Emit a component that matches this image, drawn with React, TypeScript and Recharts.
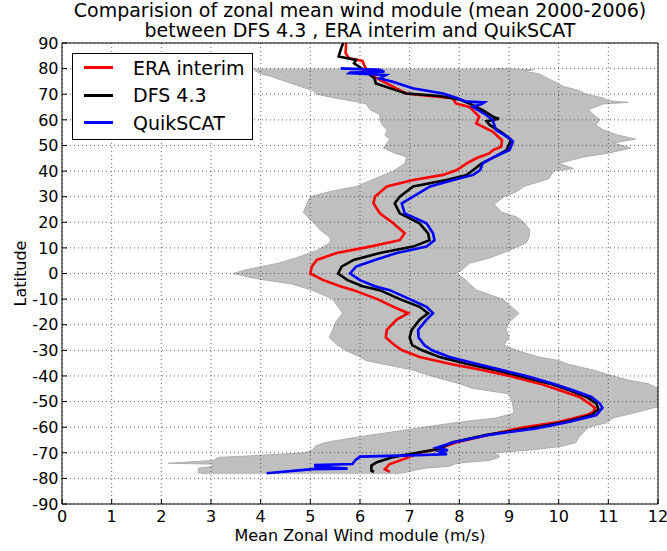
import React from 'react';
import {
  ComposedChart,
  Line,
  Area,
  XAxis,
  YAxis,
  CartesianGrid,
  Legend,
} from 'recharts';

// ---- tick labels ----
const X_TICKS = [0, 1, 2, 3, 4, 5, 6, 7, 8, 9, 10, 11, 12];
const Y_TICKS = [-90, -80, -70, -60, -50, -40, -30, -20, -10, 0, 10, 20, 30, 40, 50, 60, 70, 80, 90];
const SERIES_NAMES = ['ERA interim', 'DFS 4.3', 'QuikSCAT'];

// ---- ERA interim: [latitude, mean zonal wind module] ----
const ERA_INTERIM = [
  [90, 5.72], [86, 5.71], [84, 5.78], [83, 6.05], [81.5, 6.08], [80, 6.12], [76.8, 6.29], [75, 6.46],
  [71.6, 6.8], [70.3, 6.93], [69.3, 7.4], [68.4, 7.87], [66.4, 7.93], [65, 8.2], [63.8, 8.27], [61.2, 8.4],
  [58.6, 8.34], [55.4, 8.67], [52, 8.86], [49.5, 8.84], [48.2, 8.68], [46.9, 8.6], [45, 8.34], [43, 8.15],
  [40.4, 7.95], [38.5, 7.67], [36.5, 7.07], [34, 6.54], [30, 6.3], [27.4, 6.27], [23.5, 6.4], [19.6, 6.67],
  [15.7, 6.9], [13, 6.8], [10.5, 6.2], [8, 5.53], [5.3, 5.13], [2.7, 5.03], [0, 5.0], [-2.5, 5.25],
  [-5, 5.6], [-6.5, 5.87], [-10, 6.35], [-13, 6.67], [-15.5, 6.97], [-18, 6.74], [-22, 6.54], [-25, 6.52],
  [-28, 6.7], [-30, 6.85], [-32.6, 7.2], [-35.2, 7.8], [-37.8, 8.48], [-40, 9.01], [-43, 9.62], [-45.6, 10.02],
  [-48.2, 10.42], [-50.8, 10.62], [-52.5, 10.73], [-54, 10.7], [-55.3, 10.56], [-57.9, 10.02], [-60, 9.3],
  [-63, 8.6], [-66, 7.93], [-68.75, 7.53], [-70, 7.19], [-72, 6.95], [-74.4, 6.6], [-76.4, 6.5], [-77.5, 6.6],
];

// ---- DFS 4.3 ----
const DFS_43 = [
  [90, 5.66], [87.3, 5.61], [84.7, 5.57], [83.4, 5.92], [82.1, 5.88], [80.8, 5.98], [78.8, 6.12], [76.2, 6.29],
  [74.2, 6.32], [71.6, 6.72], [70.3, 6.93], [69.3, 7.6], [68, 8.0], [66.4, 8.2], [63.8, 8.47], [61, 8.7],
  [60.4, 8.8], [59.5, 8.55], [58, 8.61], [54.7, 8.88], [52.1, 9.04], [48.2, 8.95], [45.6, 8.72], [43, 8.45],
  [40.4, 8.28], [38.5, 8.15], [36.5, 7.74], [34, 7.07], [30, 6.8], [27.4, 6.7], [23.5, 6.8], [19.6, 7.2],
  [15.7, 7.37], [13, 7.4], [10.5, 7.07], [8, 6.4], [5.3, 5.87], [2.7, 5.63], [0, 5.56], [-2.6, 5.75],
  [-5, 6.05], [-6.5, 6.4], [-10, 6.8], [-13, 7.2], [-15.5, 7.37], [-18, 7.2], [-22, 7.04], [-25, 7.0],
  [-28, 7.05], [-30, 7.25], [-32.6, 7.6], [-35.2, 8.14], [-37.8, 8.74], [-40, 9.21], [-43, 9.82], [-45.6, 10.22],
  [-48.2, 10.56], [-50.8, 10.76], [-53, 10.8], [-55.3, 10.66], [-57.9, 10.15], [-60.5, 9.4], [-63, 8.55],
  [-66, 7.85], [-68.4, 7.6], [-70, 7.15], [-71.7, 6.67], [-73.7, 6.34], [-75, 6.23], [-77, 6.23], [-77.5, 6.28],
];

// ---- QuikSCAT ----
const QUIKSCAT = [
  [80.1, 5.61], [79.5, 6.4], [78.8, 6.49], [78.5, 5.8], [78.2, 5.78], [77.5, 6.52], [76.2, 6.39], [74.9, 6.66],
  [72.3, 7.06], [70.3, 7.67], [68.5, 7.95], [67.1, 8.14], [66.8, 8.5], [66.2, 8.45], [65.1, 8.27], [61.9, 8.54],
  [59.9, 8.67], [56, 8.74], [53, 9.0], [51.5, 9.08], [48.2, 9.01], [45.5, 8.7], [43, 8.47], [40.4, 8.42],
  [38.5, 8.28], [36.5, 7.88], [34, 7.41], [30, 7.07], [27.4, 6.84], [23.5, 6.9], [19.6, 7.34], [15.7, 7.47],
  [13, 7.5], [10.5, 7.34], [8, 6.74], [5.3, 6.3], [2.7, 5.92], [0, 5.8], [-2.6, 6.0], [-5, 6.3],
  [-6.5, 6.6], [-10, 7.0], [-13, 7.34], [-15.5, 7.47], [-18, 7.34], [-22, 7.17], [-25, 7.18], [-28, 7.3],
  [-30, 7.45], [-32.6, 7.8], [-35.2, 8.34], [-37.8, 8.88], [-40, 9.35], [-43, 9.89], [-45.6, 10.29], [-48.2, 10.66],
  [-50.8, 10.83], [-52.5, 10.88], [-55.3, 10.76], [-57.9, 10.22], [-60.5, 9.55], [-63, 8.6], [-66, 7.87],
  [-68, 7.55], [-69, 7.77], [-69.5, 7.6], [-70.6, 7.75], [-71, 7.0], [-71.5, 6.0], [-73, 5.9], [-74.4, 5.85],
  [-74.8, 5.1], [-75.3, 5.1], [-76.2, 5.75], [-76.4, 5.05], [-78, 4.12],
];

// ---- grey envelope: [latitude, min, max] ----
const ENVELOPE = [
  [80, 3.85, 8.74], [79.6, 3.87, 9.5], [79, 3.9, 9.3], [78, 4.0, 9.6], [77, 4.2, 9.7], [75, 4.5, 9.9],
  [73, 4.8, 10.1], [71.5, 5.05, 10.4], [70, 5.13, 10.56], [68.5, 5.5, 10.9], [67.5, 5.8, 11.0], [66.8, 6.0, 11.4],
  [66.2, 6.13, 10.9], [64, 6.2, 10.6], [62, 6.4, 10.7], [60, 6.4, 10.83], [58, 6.45, 10.75], [56, 6.55, 10.9],
  [54, 6.5, 11.2], [52.5, 6.6, 11.55], [51, 6.55, 11.1], [49, 6.47, 11.45], [47, 6.7, 11.0], [45.5, 6.94, 10.5],
  [43, 6.9, 10.0], [41, 6.75, 10.3], [40, 6.67, 9.9], [37, 6.3, 9.8], [34, 5.93, 9.3], [32, 5.4, 9.16],
  [30, 5.0, 8.9], [27, 4.93, 8.7], [24, 4.86, 8.85], [22, 4.95, 9.16], [20, 5.06, 9.3], [17, 5.2, 9.42],
  [14, 5.4, 9.4], [12, 5.4, 9.35], [9, 5.13, 9.0], [6, 4.7, 8.6], [4, 4.35, 8.2], [1.3, 3.67, 8.05],
  [0, 3.45, 7.93], [-2, 3.9, 8.1], [-4, 4.6, 8.2], [-6.5, 5.04, 8.35], [-10, 5.45, 8.87], [-15.5, 5.65, 9.2],
  [-19, 5.51, 9.0], [-22, 5.45, 8.94], [-25, 5.38, 9.0], [-28, 5.55, 8.9], [-30, 5.71, 9.15], [-32.6, 6.0, 9.6],
  [-34, 6.12, 10.0], [-35.5, 6.5, 10.2], [-37.7, 7.06, 10.7], [-39.5, 7.35, 11.0], [-41.6, 7.72, 11.4],
  [-43, 8.0, 11.8], [-44.8, 8.26, 12], [-47, 9.0, 12], [-50.5, 9.07, 12], [-52, 9.08, 12], [-54.5, 9.1, 11.5],
  [-56.4, 8.74, 11.1], [-58.3, 7.9, 10.96], [-60, 7.3, 10.6], [-62, 6.6, 10.5], [-64, 5.9, 10.4],
  [-66, 5.3, 10.35], [-67.4, 5.1, 10.08], [-68.8, 5.05, 9.5], [-70, 4.9, 8.67], [-71, 4.0, 8.8],
  [-71.8, 3.15, 8.8], [-73, 3.05, 8.6], [-73.8, 2.4, 8.1], [-74.1, 2.14, 8.0], [-74.4, 3.0, 7.9],
  [-75.3, 3.05, 7.8], [-76, 2.75, 7.3], [-77.7, 2.74, 6.9], [-78.3, 2.9, 6.7],
];

const toSeries = (rows: number[][]) => rows.map(([lat, wind]) => ({ lat, wind }));
const eraData = toSeries(ERA_INTERIM);
const dfsData = toSeries(DFS_43);
const qsData = toSeries(QUIKSCAT);
const bandData = ENVELOPE.map(([lat, lo, hi]) => ({ lat, range: [lo, hi] }));

const FONT = "'DejaVu Sans', 'Liberation Sans', sans-serif";

const XTick = (props: any) => {
  const { x, y, payload } = props;
  return (
    <text x={x} y={y} dy={11.4} textAnchor="middle" fontSize={16} fontFamily={FONT} fill="#000">
      {payload.value}
    </text>
  );
};

const YTick = (props: any) => {
  const { x, y, payload } = props;
  return (
    <text x={x} y={y} dy="0.36em" textAnchor="end" fontSize={16} fontFamily={FONT} fill="#000">
      {payload.value}
    </text>
  );
};

const LegendBox = (props: any) => {
  const items = (props.payload || [])
    .filter((p: any) => p.type !== 'none' && SERIES_NAMES.includes(p.value))
    .sort((a: any, b: any) => SERIES_NAMES.indexOf(a.value) - SERIES_NAMES.indexOf(b.value));
  return (
    <div
      style={{
        width: 179,
        height: 85,
        border: '1px solid #000',
        background: '#fff',
        position: 'relative',
        fontFamily: FONT,
        fontSize: 19,
        color: '#000',
      }}
    >
      {items.map((it: any, i: number) => (
        <div
          key={String(it.value)}
          style={{
            position: 'absolute',
            left: 11,
            top: 13.5 + i * 27.5 - 11,
            height: 22,
            display: 'flex',
            alignItems: 'center',
            whiteSpace: 'nowrap',
          }}
        >
          <span style={{ display: 'inline-block', width: 29, height: 3, background: it.color }} />
          <span style={{ marginLeft: 20, lineHeight: '22px' }}>{it.value}</span>
        </div>
      ))}
    </div>
  );
};

export default function App() {
  return (
    <div style={{ position: 'absolute', left: 0, top: 0, width: 667, height: 551, background: '#fff', fontFamily: FONT }}>
      <div
        style={{
          position: 'absolute',
          left: 62,
          width: 596,
          top: 0,
          textAlign: 'center',
          fontSize: 19,
          lineHeight: '20px',
          fontFamily: FONT,
          color: '#000',
          whiteSpace: 'nowrap',
          zIndex: 2,
        }}
      >
        Comparision of zonal mean wind module (mean 2000-2006)
        <br />
        between DFS 4.3 , ERA interim and QuikSCAT
      </div>
      <ComposedChart
        width={667}
        height={551}
        layout="vertical"
        margin={{ top: 42, right: 8, bottom: 0, left: 0 }}
      >
        <XAxis
          type="number"
          xAxisId="b"
          orientation="bottom"
          domain={[0, 12]}
          ticks={X_TICKS}
          allowDataOverflow
          height={47}
          tickSize={-5}
          tickMargin={11.3}
          tick={<XTick />}
          axisLine={{ stroke: '#000', strokeWidth: 1 }}
          tickLine={{ stroke: '#000' }}
          label={{
            value: 'Mean Zonal Wind module (m/s)',
            position: 'insideBottom',
            offset: 10,
            fill: '#000',
            fontSize: 16,
            fontFamily: FONT,
          }}
        />
        <XAxis
          type="number"
          xAxisId="t"
          orientation="top"
          domain={[0, 12]}
          ticks={X_TICKS}
          allowDataOverflow
          height={1}
          tickSize={-5}
          tick={false}
          axisLine={{ stroke: '#000', strokeWidth: 1 }}
          tickLine={{ stroke: '#000' }}
        />
        <YAxis
          type="number"
          yAxisId="l"
          dataKey="lat"
          orientation="left"
          domain={[-90, 90]}
          ticks={Y_TICKS}
          reversed
          allowDataOverflow
          width={62}
          tickSize={-5}
          tickMargin={8.5}
          tick={<YTick />}
          axisLine={{ stroke: '#000', strokeWidth: 1 }}
          tickLine={{ stroke: '#000' }}
          label={{
            value: 'Latitude',
            angle: -90,
            position: 'insideLeft',
            offset: 20,
            fill: '#000',
            fontSize: 16,
            fontFamily: FONT,
            style: { textAnchor: 'middle' },
          }}
        />
        <YAxis
          type="number"
          yAxisId="r"
          dataKey="lat"
          orientation="right"
          domain={[-90, 90]}
          ticks={Y_TICKS}
          reversed
          allowDataOverflow
          width={1}
          tickSize={-5}
          tick={false}
          axisLine={{ stroke: '#000', strokeWidth: 1 }}
          tickLine={{ stroke: '#000' }}
        />
        <Area
          data={bandData}
          xAxisId="b"
          yAxisId="l"
          dataKey="range"
          type="linear"
          fill="#bfbfbf"
          fillOpacity={1}
          stroke="#adadad"
          strokeWidth={1}
          legendType="none"
          isAnimationActive={false}
          dot={false}
          activeDot={false}
        />
        <CartesianGrid
          xAxisId="b"
          yAxisId="l"
          stroke="#222"
          strokeWidth={0.7}
          strokeDasharray="1 3"
          zIndex={150}
        />
        <Line
          data={eraData}
          xAxisId="b"
          yAxisId="l"
          dataKey="wind"
          name="ERA interim"
          type="linear"
          stroke="#ff0000"
          strokeWidth={2.6}
          dot={false}
          activeDot={false}
          isAnimationActive={false}
        />
        <Line
          data={dfsData}
          xAxisId="b"
          yAxisId="l"
          dataKey="wind"
          name="DFS 4.3"
          type="linear"
          stroke="#000000"
          strokeWidth={2.6}
          dot={false}
          activeDot={false}
          isAnimationActive={false}
        />
        <Line
          data={qsData}
          xAxisId="b"
          yAxisId="l"
          dataKey="wind"
          name="QuikSCAT"
          type="linear"
          stroke="#0000ff"
          strokeWidth={2.6}
          dot={false}
          activeDot={false}
          isAnimationActive={false}
        />
        <Legend
          layout="horizontal"
          verticalAlign="middle"
          align="center"
          content={<LegendBox />}
          wrapperStyle={{ left: 72, top: 53, width: 181, height: 87 }}
        />
      </ComposedChart>
    </div>
  );
}
